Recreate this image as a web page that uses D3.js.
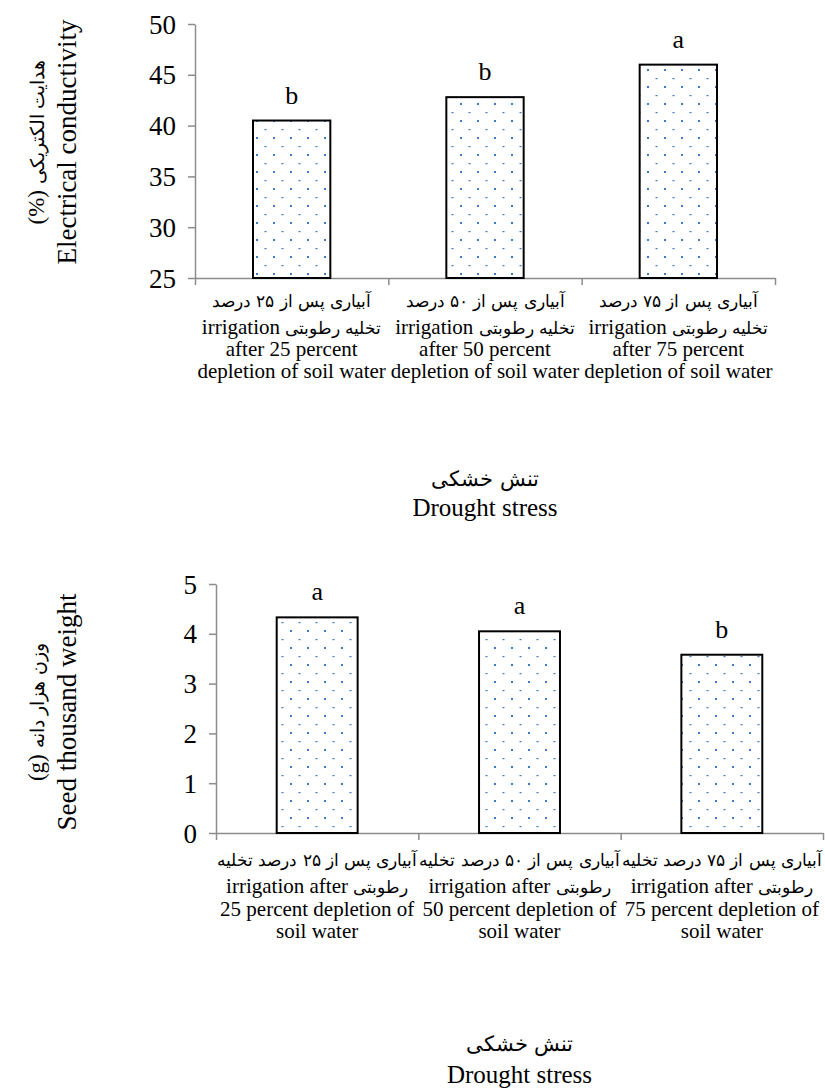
<!DOCTYPE html>
<html>
<head>
<meta charset="utf-8">
<script src="https://cdn.jsdelivr.net/npm/d3@7"></script>
<style>
  @font-face {
    font-family: "FaFallback";
    src: local("DejaVu Sans");
    unicode-range: U+0600-06FF;
    size-adjust: 82%;
  }
  body { margin: 0; background: #fff; }
  svg text { font-family: "FaFallback", "Liberation Serif", "Times New Roman", serif; fill: #000; }
</style>
</head>
<body>
<svg id="chart" width="825" height="1092"></svg>
<script>
const categories = ["25", "50", "75"];

// chart 1: electrical conductivity
const ecValues = [40.5, 42.8, 46.0];
const ecLetters = ["b", "b", "a"];
const ecTicks = [25, 30, 35, 40, 45, 50];
const ecLabels = [
  ["آبیاری پس از ۲۵ درصد", "تخلیه رطوبتی irrigation", "after 25 percent", "depletion of soil water"],
  ["آبیاری پس از ۵۰ درصد", "تخلیه رطوبتی irrigation", "after 50 percent", "depletion of soil water"],
  ["آبیاری پس از ۷۵ درصد", "تخلیه رطوبتی irrigation", "after 75 percent", "depletion of soil water"]
];
const ecTitleFa = "هدایت الکتریکی (%)";
const ecTitleEn = "Electrical conductivity";

// chart 2: seed thousand weight
const tkwValues = [4.33, 4.05, 3.58];
const tkwLetters = ["a", "a", "b"];
const tkwTicks = [0, 1, 2, 3, 4, 5];
const tkwLabels = [
  ["آبیاری پس از ۲۵ درصد تخلیه", "رطوبتی irrigation after", "25 percent depletion of", "soil water"],
  ["آبیاری پس از ۵۰ درصد تخلیه", "رطوبتی irrigation after", "50 percent depletion of", "soil water"],
  ["آبیاری پس از ۷۵ درصد تخلیه", "رطوبتی irrigation after", "75 percent depletion of", "soil water"]
];
const tkwTitleFa = "وزن هزار دانه (g)";
const tkwTitleEn = "Seed thousand weight";

const xTitleFa = "تنش خشکی";
const xTitleEn = "Drought stress";

const FONT = '"FaFallback", "Liberation Serif", "Times New Roman", serif';
const hasFa = s => /[\u0600-\u06FF]/.test(s);
const svg = d3.select("#chart");

const defs = svg.append("defs");
const pat = defs.append("pattern")
  .attr("id", "dots")
  .attr("patternUnits", "userSpaceOnUse")
  .attr("width", 17).attr("height", 17);
pat.append("rect").attr("width", 17).attr("height", 17).attr("fill", "#fff");
pat.append("rect").attr("x", 1).attr("y", 1).attr("width", 2).attr("height", 2).attr("fill", "#3f7ac6");
pat.append("rect").attr("x", 9.5).attr("y", 10).attr("width", 2).attr("height", 1.2).attr("fill", "#3f7ac6");

function drawChart(o) {
  const g = svg.append("g");

  const y = d3.scaleLinear().domain(o.domain).range([o.bottom, o.top]);
  const x = d3.scaleBand().domain(categories).range([o.left, o.right]).padding(0);
  const xb = d3.scaleLinear().domain([0, categories.length]).range([o.left, o.right]);

  // y axis
  const ya = g.append("g")
    .attr("transform", `translate(${o.left},0)`)
    .call(d3.axisLeft(y).tickValues(o.ticks).tickFormat(d3.format("d"))
      .tickSize(7).tickSizeOuter(0).tickPadding(12));
  ya.attr("font-family", FONT).attr("font-size", 27);
  ya.selectAll("path, line").attr("stroke", "#8c8c8c").attr("stroke-width", 1.5);
  ya.selectAll("text").attr("dy", "0.34em").style("font-family", FONT);

  // x axis with ticks between categories
  const xa = g.append("g")
    .attr("transform", `translate(0,${o.bottom})`)
    .call(d3.axisBottom(xb).tickValues(d3.range(categories.length + 1)).tickFormat("")
      .tickSize(7).tickSizeOuter(0));
  xa.selectAll("path, line").attr("stroke", "#8c8c8c").attr("stroke-width", 1.5);

  // bars
  const bw = x.bandwidth() * 0.4;
  g.selectAll(".bar")
    .data(o.values)
    .enter()
    .append("rect")
    .attr("x", (d, i) => x(categories[i]) + (x.bandwidth() - bw) / 2)
    .attr("y", d => y(d))
    .attr("width", bw)
    .attr("height", d => o.bottom - y(d))
    .attr("fill", "url(#dots)")
    .attr("stroke", "#000")
    .attr("stroke-width", 2);

  // significance letters
  g.selectAll(".letter")
    .data(o.letters)
    .enter()
    .append("text")
    .attr("x", (d, i) => x(categories[i]) + x.bandwidth() / 2)
    .attr("y", (d, i) => y(o.values[i]) - 17)
    .attr("text-anchor", "middle")
    .attr("font-size", 26)
    .text(d => d);

  // category labels (right-to-left paragraph when a line holds Persian)
  o.labels.forEach((lines, i) => {
    lines.forEach((ln, j) => {
      g.append("text")
        .attr("x", x(categories[i]) + x.bandwidth() / 2)
        .attr("y", o.labelY[j])
        .attr("text-anchor", "middle")
        .attr("direction", hasFa(ln) ? "rtl" : "ltr")
        .attr("font-size", 21)
        .text(ln);
    });
  });

  // x title
  const cx = (o.left + o.right) / 2;
  g.append("text").attr("x", cx).attr("y", o.xTitleY[0])
    .attr("text-anchor", "middle").attr("direction", "rtl")
    .attr("font-size", 25).text(xTitleFa);
  g.append("text").attr("x", cx).attr("y", o.xTitleY[1])
    .attr("text-anchor", "middle").attr("font-size", 25).text(xTitleEn);

  // y title
  const cy = o.yTitleY;
  g.append("text")
    .attr("transform", `translate(${o.yTitleX[0]},${cy}) rotate(-90)`)
    .attr("text-anchor", "middle").attr("direction", "rtl")
    .attr("font-size", 23).text(o.titleFa);
  g.append("text")
    .attr("transform", `translate(${o.yTitleX[1]},${cy}) rotate(-90)`)
    .attr("text-anchor", "middle")
    .attr("font-size", 27).text(o.titleEn);
}

drawChart({
  domain: [25, 50], ticks: ecTicks, values: ecValues, letters: ecLetters, labels: ecLabels,
  top: 24, bottom: 278, left: 195, right: 775,
  labelY: [307, 334, 356, 378], xTitleY: [486, 516],
  yTitleY: 142, yTitleX: [44, 76],
  titleFa: ecTitleFa, titleEn: ecTitleEn
});

drawChart({
  domain: [0, 5], ticks: tkwTicks, values: tkwValues, letters: tkwLetters, labels: tkwLabels,
  top: 584, bottom: 833, left: 216, right: 823,
  labelY: [866, 893, 916, 938], xTitleY: [1051, 1083],
  yTitleY: 712, yTitleX: [44, 76],
  titleFa: tkwTitleFa, titleEn: tkwTitleEn
});
</script>
</body>
</html>
